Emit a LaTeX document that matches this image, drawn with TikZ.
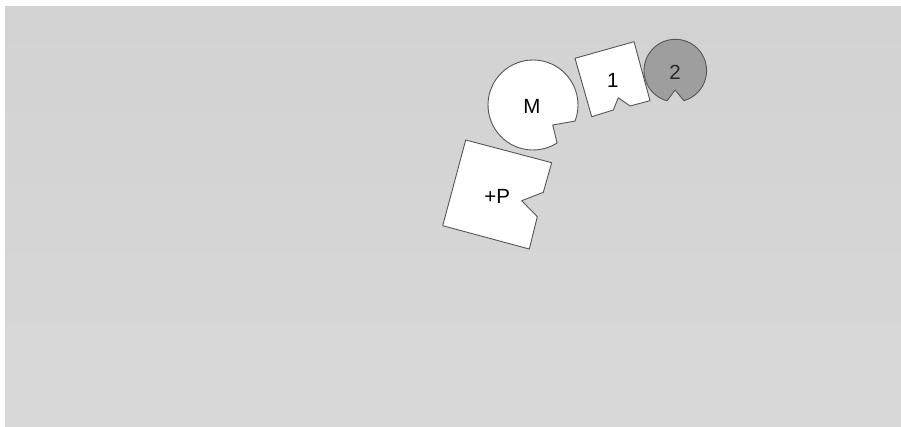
\documentclass[tikz,border=0pt]{standalone}
\usepackage{fontspec}
\setmainfont{Liberation Sans}
\definecolor{paper}{RGB}{210,210,210}
\definecolor{paperlow}{RGB}{216,216,216}
\definecolor{edge}{RGB}{85,85,85}
\definecolor{darkpiece}{RGB}{158,158,158}
\begin{document}
\begin{tikzpicture}[x=1pt,y=-1pt,
  piece/.style={draw=edge,line width=0.9pt,line join=round,fill=white},
  darkp/.style={piece,fill=darkpiece},
  lbl/.style={font=\fontsize{20.5}{24}\selectfont,inner sep=0pt,text=black}]
\useasboundingbox (0,0) rectangle (901,427);
\fill[white] (0,0) rectangle (901,427);
\shade[top color=paper,bottom color=paperlow] (5,7) rectangle (901,427);
% M
\coordinate (mc) at (533,105);
\draw[piece] (mc) ++(57.6:45) arc[start angle=57.6,end angle=380.9,radius=45] -- (552.7,125) -- cycle;
\node[lbl] (m) at (532,106) {M};
% 2
\coordinate (tc) at (675.3,70.6);
\draw[darkp] (tc) ++(105.2:31.3) arc[start angle=105.2,end angle=433.9,radius=31.3] -- (675,90) -- cycle;
\node[lbl,text={rgb,255:red,40;green,40;blue,40}] (two) at (675,72.7) {2};
% 1
\draw[piece] (575,58.3) -- (634,41.7) -- (650,100.7) -- (630,106) -- (618.3,97.7) -- (613.3,110) -- (591.7,116.7) -- cycle;
\node[lbl] (one) at (612.7,80.7) {1};
% +P
\draw[piece] (465.7,140) -- (551.7,162.7) -- (543.3,192.3) -- (521.7,200.7) -- (537.3,216.7) -- (529.3,249) -- (442.7,225.7) -- cycle;
\node[lbl] (p) at (497.3,196) {+P};
\end{tikzpicture}
\end{document}
